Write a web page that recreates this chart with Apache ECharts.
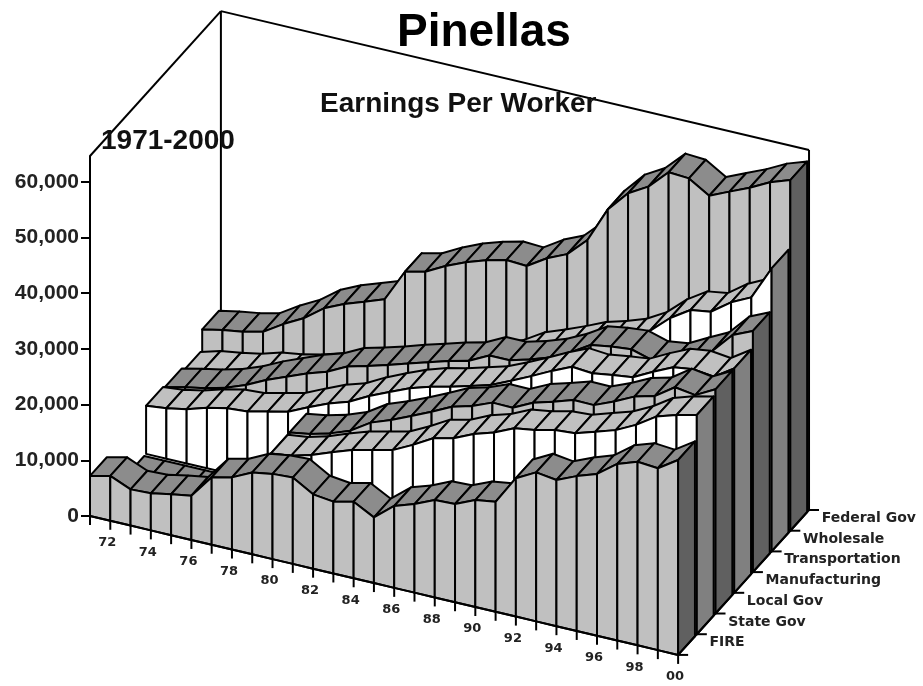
<!DOCTYPE html>
<html>
<head>
<meta charset="utf-8">
<style>html,body{margin:0;padding:0;background:#fff}#main{width:923px;height:686px}</style>
<script src="https://cdn.jsdelivr.net/npm/echarts@6/dist/echarts.min.js"></script>
</head>
<body>
<div id="main"></div>
<script>
var years = ['71','72','73','74','75','76','77','78','79','80','81','82','83','84','85','86','87','88','89','90','91','92','93','94','95','96','97','98','99','00'];
var sectors = ['FIRE','State Gov','Local Gov','Manufacturing','Transportation','Wholesale','Federal Gov'];
var valueTicks = [0,10000,20000,30000,40000,50000,60000];

var fire = [7200,8050,6500,6650,7350,7950,12100,12950,14700,15300,15500,13350,12900,13750,11800,14700,15900,17500,17650,19200,19750,24850,26750,26250,27800,29050,31700,32950,32650,35000];
var stateGov = [0,0,0,0,0,0,0,0,14400,14850,15850,17200,18450,19300,20150,21950,24000,24850,26500,27600,29250,29800,30650,30900,32050,33200,35000,37350,38500,39350];
var localGov = [0,0,0,0,0,0,0,0,14450,15050,16000,17350,19650,21000,22550,24200,25950,26950,28400,28350,30100,31150,32300,32250,33750,35500,36450,38900,38350,40250];
var manufacturing = [8650,9050,9750,10850,11650,11900,12750,13600,15250,16800,17950,19850,21450,22950,24100,24950,25950,27000,28600,30300,32100,33700,33400,33950,34400,36250,37900,38400,37950,40300];
var transportation = [8250,9100,9800,10750,12100,13850,15300,16750,17900,19700,20650,21700,22850,23900,25000,25900,27700,27700,28700,29950,31700,33900,34500,34850,33800,34300,36200,38000,41700,43300];
var wholesale = [7500,8550,9100,9800,10850,11400,12250,13300,14400,15300,16400,17600,18800,19800,21000,22000,23500,25700,27050,28500,30100,31150,32400,34450,37600,39900,40450,43000,44750,50800];
var federalGov = [11200,11950,12500,13350,15600,17500,20150,21800,23050,24350,30150,31000,32900,34450,35650,36550,36350,38600,40200,43600,49950,53700,55750,59200,58950,56700,58300,59850,61700,62950];

var AXIS_TOP = 64632;          // value at the top of the walls
var YEAR_DX = 20.28, YEAR_DY = 4.79;
var DEPTH_DX = 18.7, DEPTH_DY = 20.7;
var PX_PER_VALUE = 360 / AXIS_TOP;
var RIBBON = 0.9;
var LINE = 2;

// oblique projection onto the hidden x axis and the value axis
function project(i, d, v) {
    return [YEAR_DX * i + DEPTH_DX * d, v + (DEPTH_DY * d - YEAR_DY * i) / PX_PER_VALUE];
}

function poly(api, pts, fill) {
    return {
        type: 'polygon',
        shape: { points: pts.map(function (p) { return api.coord(project(p[0], p[1], p[2])); }) },
        style: { fill: fill, stroke: '#000', lineWidth: LINE, lineJoin: 'round' }
    };
}

function ribbon(name, values, d, face, top, cap) {
    return {
        name: name,
        type: 'custom',
        coordinateSystem: 'cartesian2d',
        silent: true,
        clip: false,
        encode: { x: 0, y: 1 },
        data: values.map(function (v, i) { return [i, v]; }),
        renderItem: function (params, api) {
            var i = api.value(0), v = api.value(1), b = d + RIBBON;
            if (i === values.length - 1) {
                return poly(api, [[i, d, v], [i, b, v], [i, b, 0], [i, d, 0]], cap);
            }
            var n = values[i + 1];
            return {
                type: 'group',
                children: [
                    poly(api, [[i, d, v], [i + 1, d, n], [i + 1, b, n], [i, b, v]], top),
                    poly(api, [[i, d, v], [i + 1, d, n], [i + 1, d, 0], [i, d, 0]], face)
                ]
            };
        }
    };
}

function line(api, a, b) {
    var p = api.coord(project(a[0], a[1], a[2])), q = api.coord(project(b[0], b[1], b[2]));
    return {
        type: 'line',
        shape: { x1: p[0], y1: p[1], x2: q[0], y2: q[1] },
        style: { stroke: '#000', lineWidth: 2 }
    };
}

var last = years.length - 1, depth = sectors.length;

var walls = {
    type: 'custom', silent: true, clip: false, encode: { x: 0, y: 1 }, data: [[0, 0]],
    renderItem: function (params, api) {
        return {
            type: 'group',
            children: [
                line(api, [0, 0, AXIS_TOP], [0, depth, AXIS_TOP]),
                line(api, [0, depth, AXIS_TOP], [last, depth, AXIS_TOP]),
                line(api, [0, depth, AXIS_TOP], [0, depth, 0]),
                line(api, [last, depth, AXIS_TOP], [last, depth, 0])
            ]
        };
    }
};

var yearAxis = {
    type: 'custom', silent: true, clip: false, encode: { x: 0, y: 1 },
    data: years.map(function (y, i) { return [i, 0]; }),
    renderItem: function (params, api) {
        var i = api.value(0), p = api.coord(project(i, 0, 0));
        var kids = [{
            type: 'line',
            shape: { x1: p[0], y1: p[1], x2: p[0], y2: p[1] + 9 },
            style: { stroke: '#000', lineWidth: 2 }
        }];
        if (i < last) kids.push(line(api, [i, 0, 0], [i + 1, 0, 0]));
        if (i % 2 === 1) {
            kids.push({
                type: 'text', x: p[0] - 3, y: p[1] + 22,
                style: { text: years[i], font: 'bold 13px "DejaVu Sans"', fill: '#222', align: 'center', verticalAlign: 'middle' }
            });
        }
        return { type: 'group', children: kids };
    }
};

var depthAxis = {
    type: 'custom', silent: true, clip: false, encode: { x: 0, y: 1 },
    data: [0, 1, 2, 3, 4, 5, 6, 7].map(function (d) { return [d, 0]; }),
    renderItem: function (params, api) {
        var d = api.value(0), p = api.coord(project(last, d, 0));
        var kids = [{
            type: 'line',
            shape: { x1: p[0], y1: p[1], x2: p[0] + 10, y2: p[1] },
            style: { stroke: '#000', lineWidth: 2 }
        }];
        if (d < depth) {
            kids.push(line(api, [last, d, 0], [last, d + 1, 0]));
            var m = api.coord(project(last, d + 0.5, 0));
            kids.push({
                type: 'text', x: m[0] + 22, y: m[1] - 2,
                style: { text: sectors[d], font: 'bold 14px "DejaVu Sans"', fill: '#222', align: 'left', verticalAlign: 'middle' }
            });
        }
        return { type: 'group', children: kids };
    }
};

var myChart = echarts.init(document.getElementById('main'));
var option = {
    animation: false,
    backgroundColor: '#fff',
    title: [
        { text: 'Pinellas', left: 397, top: 10, padding: 0, textStyle: { fontFamily: 'Liberation Sans', fontWeight: 'bold', fontSize: 46, color: '#000' } },
        { text: 'Earnings Per Worker', left: 320, top: 90, padding: 0, textStyle: { fontFamily: 'Liberation Sans', fontWeight: 'bold', fontSize: 28, color: '#111' } },
        { text: '1971-2000', left: 101, top: 127, padding: 0, textStyle: { fontFamily: 'Liberation Sans', fontWeight: 'bold', fontSize: 28, color: '#111' } }
    ],
    grid: { left: 90, right: 923 - 90 - 720, top: 156, bottom: 686 - 516 },
    xAxis: { type: 'value', min: 0, max: 720, show: false },
    yAxis: {
        type: 'value', min: 0, max: AXIS_TOP, interval: 10000,
        splitLine: { show: false },
        axisLine: { show: true, lineStyle: { color: '#000', width: 2 } },
        axisTick: { show: true, length: 9, customValues: valueTicks, lineStyle: { color: '#000', width: 2 } },
        axisLabel: {
            customValues: valueTicks, margin: 11, color: '#222',
            fontFamily: 'Liberation Sans', fontWeight: 'bold', fontSize: 21,
            formatter: function (v) { return v.toLocaleString('en-US'); }
        }
    },
    series: [
        walls,
        ribbon('Federal Gov', federalGov, 6, '#c0c0c0', '#8c8c8c', '#606060'),
        ribbon('Wholesale', wholesale, 5, '#ffffff', '#c0c0c0', '#808080'),
        ribbon('Transportation', transportation, 4, '#c0c0c0', '#8c8c8c', '#606060'),
        ribbon('Manufacturing', manufacturing, 3, '#ffffff', '#c0c0c0', '#808080'),
        ribbon('Local Gov', localGov, 2, '#c0c0c0', '#8c8c8c', '#606060'),
        ribbon('State Gov', stateGov, 1, '#ffffff', '#c0c0c0', '#808080'),
        ribbon('FIRE', fire, 0, '#c0c0c0', '#8c8c8c', '#606060'),
        yearAxis,
        depthAxis
    ]
};
myChart.setOption(option, true);
</script>
</body>
</html>
